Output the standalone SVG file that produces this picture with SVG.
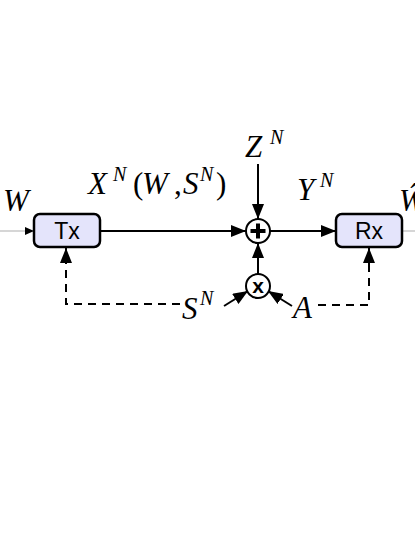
<svg xmlns="http://www.w3.org/2000/svg" width="415" height="537" viewBox="0 0 415 537">
<style>
.box{fill:#e4e4fb;stroke:#000;stroke-width:2.5}
.ln{stroke:#000;stroke-width:2;fill:none}
.dash{stroke:#000;stroke-width:2;fill:none;stroke-dasharray:8,6}
.gray{stroke:#c8c8c8;stroke-width:1.5;fill:none}
.lbl{font-family:"Liberation Sans",Arial,sans-serif;font-size:23px;fill:#000}
.m{font-family:"Liberation Serif","Times New Roman",serif;font-style:italic;font-size:31px;fill:#000}
.s{font-family:"Liberation Serif","Times New Roman",serif;font-style:italic;font-size:20px;fill:#000}
.r{font-family:"Liberation Serif","Times New Roman",serif;font-size:31px;fill:#000}
</style>
<defs>
<marker id="ah" markerUnits="userSpaceOnUse" markerWidth="16" markerHeight="12" refX="15" refY="6" orient="auto"><path d="M0,0 L15,6 L0,12 z" fill="#000"/></marker>
<marker id="ahs" markerUnits="userSpaceOnUse" markerWidth="10" markerHeight="8" refX="9" refY="4" orient="auto"><path d="M0,0 L9,4 L0,8 z" fill="#000"/></marker>
</defs>
<rect width="415" height="537" fill="#fff"/>
<g id="connectors">
<line class="gray" x1="0" y1="231" x2="34" y2="231" marker-end="url(#ahs)"/>
<line class="gray" x1="402" y1="231" x2="415" y2="231"/>
<line class="ln" x1="100" y1="231" x2="246" y2="231" marker-end="url(#ah)"/>
<line class="ln" x1="270" y1="231" x2="336" y2="231" marker-end="url(#ah)"/>
<line class="ln" x1="258" y1="164" x2="258" y2="219" marker-end="url(#ah)"/>
<line class="ln" x1="258" y1="274" x2="258" y2="243" marker-end="url(#ah)"/>
<line class="ln" stroke-width="2.5" x1="224" y1="306" x2="248" y2="291" marker-end="url(#ah)"/>
<line class="ln" stroke-width="2.5" x1="292" y1="306" x2="268" y2="291" marker-end="url(#ah)"/>
<path class="dash" d="M180,304 L66,304 L66,262"/>
<line class="ln" x1="66" y1="264" x2="66" y2="248" marker-end="url(#ah)"/>
<path class="dash" d="M318,305 L369,305 L369,262"/>
<line class="ln" x1="369" y1="264" x2="369" y2="248" marker-end="url(#ah)"/>
</g>
<g id="tx">
<rect class="box" x="34" y="214" width="66" height="33" rx="6"/>
<text class="lbl" x="67" y="239" text-anchor="middle">Tx</text>
</g>
<g id="rx">
<rect class="box" x="336" y="214" width="66" height="33" rx="6"/>
<text class="lbl" x="369" y="239" text-anchor="middle">Rx</text>
</g>
<g id="adder">
<circle cx="258" cy="231" r="12" fill="#fff" stroke="#000" stroke-width="2"/>
<path d="M250.5,231 H265.5 M258,223.5 V238.5" stroke="#000" stroke-width="4"/>
</g>
<g id="mult">
<circle cx="258" cy="286" r="12" fill="#fff" stroke="#000" stroke-width="2"/>
<text x="258" y="293" text-anchor="middle" font-family="Liberation Sans,Arial,sans-serif" font-weight="bold" font-size="21">x</text>
</g>
<g id="labels">
<text class="m" x="3" y="211">W</text>
<text class="m" x="399" y="211">Ŵ</text>
<text class="m" x="88" y="194">X</text>
<text class="s" x="113" y="181">N</text>
<text class="r" x="133" y="194">(</text>
<text class="m" x="142" y="194">W</text>
<text class="r" x="174" y="194">,</text>
<text class="m" x="183" y="194">S</text>
<text class="s" x="200" y="181">N</text>
<text class="r" x="216" y="194">)</text>
<text class="m" x="245" y="157">Z</text>
<text class="s" x="270" y="144">N</text>
<text class="m" x="297" y="200">Y</text>
<text class="s" x="320" y="187">N</text>
<text class="m" x="182" y="319">S</text>
<text class="s" x="200" y="305">N</text>
<text class="m" x="293" y="318">A</text>
</g>
</svg>
